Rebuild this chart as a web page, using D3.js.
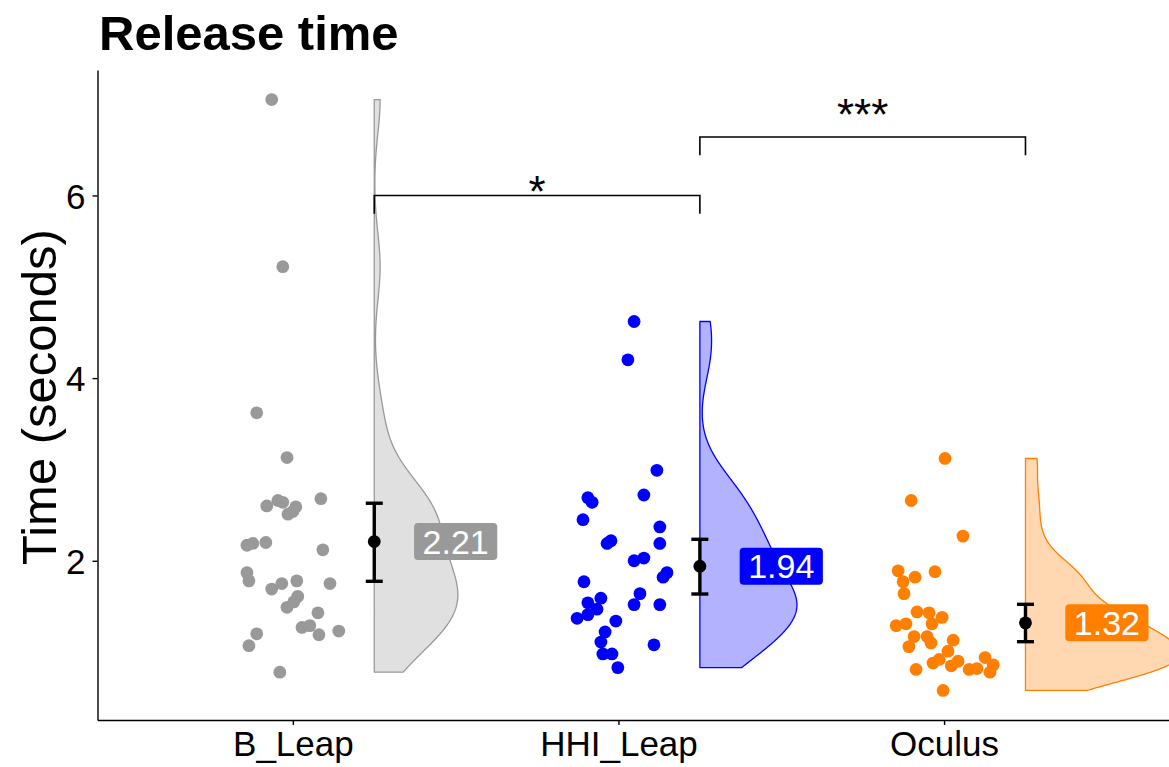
<!DOCTYPE html>
<html><head><meta charset="utf-8">
<script src="https://cdn.jsdelivr.net/npm/d3@7"></script>
<style>
body{margin:0;background:#fff}
svg{display:block}
text{font-family:"Liberation Sans",Arial,Helvetica,sans-serif}
</style>
</head><body>
<svg id="chart" width="1169" height="767"></svg>
<script>
// ---------------- data ----------------
const categories = ["B_Leap", "HHI_Leap", "Oculus"];
const colors = ["#999999", "#0000FF", "#FF7F00"];

const bLeap = [7.05,5.22,3.62,3.13,2.60,2.66,2.64,2.59,2.54,2.51,2.68,2.17,2.19,2.20,2.12,1.87,1.78,1.69,1.75,1.78,1.75,1.61,1.55,1.49,1.43,1.27,1.29,1.19,1.23,1.20,1.07,0.78];
const bJitter = [-0.065,-0.031,-0.111,-0.018,-0.080,-0.046,-0.031,0.009,0.000,-0.015,0.086,-0.141,-0.123,-0.083,0.092,-0.141,-0.135,-0.065,-0.034,0.012,0.114,0.015,0.003,-0.018,0.077,0.028,0.052,0.080,0.141,-0.111,-0.135,-0.040];

const hhiLeap = [4.62,4.20,2.99,2.72,2.69,2.64,2.45,2.37,2.19,2.22,2.19,2.03,2.00,1.87,1.82,1.77,1.64,1.59,1.54,1.52,1.52,1.47,1.41,1.37,1.34,1.22,1.11,1.08,0.98,0.98,0.83];
const hhiJitter = [0.048,0.029,0.118,0.078,-0.094,-0.081,-0.109,0.127,-0.035,-0.023,0.127,0.078,0.048,0.149,0.137,-0.106,0.066,-0.054,-0.094,0.048,0.127,-0.066,-0.094,-0.127,-0.008,-0.041,-0.054,0.109,-0.048,-0.020,-0.002];

const oculus = [3.12,2.66,2.27,1.89,1.82,1.88,1.77,1.64,1.44,1.43,1.38,1.29,1.31,1.31,1.17,1.17,1.10,1.13,1.06,1.01,0.88,0.92,0.90,0.85,0.81,0.81,0.82,0.94,0.86,0.78,0.58];
const ocJitter = [0.003,-0.101,0.058,-0.141,-0.089,-0.028,-0.126,-0.123,-0.083,-0.046,-0.006,-0.147,-0.117,-0.037,-0.092,-0.052,-0.040,0.028,-0.108,0.012,-0.034,-0.015,0.043,0.022,-0.086,0.077,0.101,0.126,0.151,0.141,-0.003];

const means = [2.21, 1.94, 1.32];
const ciLow = [1.775, 1.636, 1.114];
const ciHigh = [2.63, 2.235, 1.523];

const sigPairs = [[0, 1], [1, 2]];
const sigLabels = ["*", "***"];
const sigLineY = [6.0, 6.64];
const sigLabelY = [6.15, 6.99];

const yTicks = [2, 4, 6];
const titleText = "Release time";
const yTitle = "Time (seconds)";

// ---------------- setup ----------------
const groups = [bLeap, hhiLeap, oculus];
const jitters = [bJitter, hhiJitter, ocJitter];

const svg = d3.select("#chart");
const panel = {left: 97.5, right: 1172, top: 70, bottom: 720};

const x = d3.scaleLinear().domain([0.4, 3.7]).range([panel.left, panel.right]);
const allVals = groups.flat();
const yMin = d3.min(allVals), yMax = d3.max(allVals);
const pad = (yMax - yMin) * 0.05;
const y = d3.scaleLinear().domain([yMin - pad, yMax + pad]).range([panel.bottom, panel.top]);

// ---------------- violins (KDE, trimmed, area-scaled) ----------------
function kde(vals) {
  const s = vals.slice().sort(d3.ascending);
  const n = s.length;
  const sd = d3.deviation(s);
  const iqr = d3.quantileSorted(s, 0.75) - d3.quantileSorted(s, 0.25);
  const bw = 0.9 * Math.min(sd, iqr / 1.34) * Math.pow(n, -0.2);
  const lo = s[0], hi = s[n - 1];
  const out = [];
  const N = 512;
  for (let k = 0; k < N; k++) {
    const t = lo + (hi - lo) * k / (N - 1);
    let sum = 0;
    for (const v of s) { const z = (t - v) / bw; sum += Math.exp(-0.5 * z * z); }
    out.push({t, d: sum / (n * bw * Math.sqrt(2 * Math.PI))});
  }
  return out;
}
const dens = groups.map(kde);
const globalMax = d3.max(dens.flat(), d => d.d);
const violinMaxUnits = 0.475;
const gV = svg.append("g");
dens.forEach((dd, i) => {
  const base = i + 1 + 0.25;
  const area = d3.area()
    .y(d => y(d.t))
    .x0(() => x(base))
    .x1(d => x(base + violinMaxUnits * d.d / globalMax))
    .curve(d3.curveLinear);
  gV.append("path")
    .attr("d", area(dd))
    .attr("fill", colors[i])
    .attr("fill-opacity", 0.3)
    .attr("stroke", colors[i])
    .attr("stroke-width", 1.3)
    .attr("stroke-linejoin", "round");
});

// ---------------- points ----------------
const gP = svg.append("g");
groups.forEach((vals, i) => {
  gP.selectAll(null).data(vals.map((v, k) => ({v, j: jitters[i][k]})))
    .join("circle")
    .attr("cx", d => x(i + 1 + d.j))
    .attr("cy", d => y(d.v))
    .attr("r", 6.4)
    .attr("fill", colors[i]);
});

// ---------------- error bars + means ----------------
const gE = svg.append("g");
means.forEach((m, i) => {
  const cx = x(i + 1.25);
  gE.append("line").attr("x1", cx).attr("x2", cx).attr("y1", y(ciLow[i])).attr("y2", y(ciHigh[i]))
    .attr("stroke", "#000").attr("stroke-width", 3.4);
  [ciLow[i], ciHigh[i]].forEach(v => {
    gE.append("line").attr("x1", cx - 8.5).attr("x2", cx + 8.5).attr("y1", y(v)).attr("y2", y(v))
      .attr("stroke", "#000").attr("stroke-width", 3.4);
  });
  gE.append("circle").attr("cx", cx).attr("cy", y(m)).attr("r", 6.4).attr("fill", "#000");
});

// ---------------- mean labels ----------------
const gL = svg.append("g");
means.forEach((m, i) => {
  const cx = x(i + 1.5), cy = y(m);
  const g = gL.append("g");
  const fs = 34;
  const t = g.append("text").attr("x", cx).attr("y", cy + fs * 0.358)
    .attr("text-anchor", "middle").attr("font-size", fs).attr("fill", "#fff").text(m.toFixed(2));
  const tw = t.node().getComputedTextLength();
  const bwid = tw + 17, bh = 37;
  g.insert("rect", "text").attr("x", cx - bwid / 2).attr("y", cy - bh / 2)
    .attr("width", bwid).attr("height", bh).attr("rx", 4).attr("ry", 4)
    .attr("fill", colors[i]);
});

// ---------------- significance brackets ----------------
const gS = svg.append("g");
sigPairs.forEach((p, k) => {
  const x1 = x(p[0] + 1.25), x2 = x(p[1] + 1.25);
  const yl = y(sigLineY[k]), yt = y(sigLineY[k] - 0.2);
  gS.append("path").attr("d", `M${x1},${yt}V${yl}H${x2}V${yt}`)
    .attr("fill", "none").attr("stroke", "#000").attr("stroke-width", 1.6);
  gS.append("text").attr("x", (x1 + x2) / 2).attr("y", y(sigLabelY[k]) + 25)
    .attr("text-anchor", "middle").attr("font-size", 44).attr("fill", "#000").text(sigLabels[k]);
});

// ---------------- axes ----------------
const yAxis = svg.append("g").attr("transform", `translate(${panel.left},0)`)
  .call(d3.axisLeft(y).tickValues(yTicks).tickSize(5).tickSizeOuter(0).tickPadding(7).tickFormat(d3.format("d")));
const xAxis = svg.append("g").attr("transform", `translate(0,${panel.bottom})`)
  .call(d3.axisBottom(x).tickValues([1, 2, 3]).tickSize(5).tickSizeOuter(0).tickPadding(6).tickFormat(d => categories[d - 1]));
[yAxis, xAxis].forEach(a => {
  a.select(".domain").attr("stroke", "#000").attr("stroke-width", 1.4);
  a.selectAll(".tick line").attr("stroke", "#000").attr("stroke-width", 1.4);
  a.selectAll(".tick text").attr("fill", "#000").attr("font-size", 35)
    .attr("font-family", '"Liberation Sans",Arial,Helvetica,sans-serif');
});
yAxis.selectAll(".tick text").attr("dy", "0.36em");
xAxis.selectAll(".tick text").attr("dy", "0.72em");

// ---------------- titles ----------------
svg.append("text").attr("x", 99).attr("y", 50).attr("font-size", 49).attr("font-weight", "bold")
  .attr("fill", "#000").text(titleText);
svg.append("text").attr("transform", `translate(56,${(panel.top + panel.bottom) / 2 + 2}) rotate(-90)`)
  .attr("text-anchor", "middle").attr("font-size", 49).attr("fill", "#000").text(yTitle);
</script>
</body></html>
